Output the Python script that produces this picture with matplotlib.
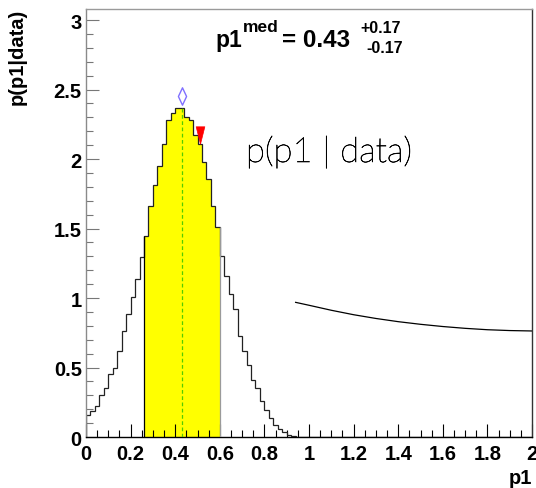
import matplotlib
matplotlib.use("Agg")
import matplotlib.pyplot as plt
import matplotlib.patheffects as pe
import numpy as np
from matplotlib.path import Path
from matplotlib.ticker import MultipleLocator, FuncFormatter

# ---- data -------------------------------------------------------------
x_min, x_max, n_bins = 0.0, 2.0, 100
# posterior density per bin (bins of width 0.02 starting at 0)
posterior = [
    0.16, 0.19, 0.22, 0.30, 0.35, 0.45, 0.50, 0.62, 0.76, 0.885,
    1.005, 1.137, 1.293, 1.444, 1.66, 1.81, 1.95, 2.11, 2.28, 2.33,
    2.37, 2.37, 2.30, 2.28, 2.17, 2.11, 1.976, 1.856, 1.664, 1.51,
    1.30, 1.156, 1.03, 0.92, 0.724, 0.62, 0.52, 0.41, 0.35, 0.257,
    0.194, 0.137, 0.089, 0.058, 0.034, 0.014, 0.005,
]
posterior = posterior + [0.0] * (n_bins - len(posterior))

median = 0.43
err_up, err_dn = 0.17, 0.17
cred_lo, cred_hi = 0.26, 0.60
mode_marker = (0.43, 2.455)
mean_marker = (0.51, 2.176)

# smooth curve drawn across the right half
curve_x = [0.94, 1.0, 1.1, 1.2, 1.3, 1.4, 1.5, 1.6, 1.7, 1.8, 1.9, 2.0]
curve_y = [0.969, 0.948, 0.912, 0.880, 0.853, 0.830, 0.811, 0.795, 0.782, 0.772, 0.766, 0.763]

# ---- figure -----------------------------------------------------------
W, H = 536, 489
fig = plt.figure(figsize=(W / 100, H / 100), dpi=100)
ax = fig.add_axes([86 / W, 1 - 438 / H, (532 - 86) / W, (438 - 10) / H])

edges = np.linspace(x_min, x_max, n_bins + 1)
vals = np.array(posterior)

# credible interval in yellow
mask = (edges[:-1] >= cred_lo - 1e-9) & (edges[1:] <= cred_hi + 1e-9)
idx = np.where(mask)[0]
ax.stairs(vals[idx], edges[idx[0]:idx[-1] + 2], fill=True, color="#ffff00",
          linewidth=0, zorder=1)
ax.vlines(cred_lo, 0, vals[idx[0]], color="black", lw=0.9, zorder=3)
ax.vlines(cred_hi, 0, vals[idx[-1]], color="#9a9a9a", lw=0.9, zorder=3)

# histogram outline
ax.stairs(vals, edges, color="#222222", lw=0.9, zorder=2)

# median line
med_bin = int(median / ((x_max - x_min) / n_bins))
ax.vlines(median, 0, vals[med_bin], color="#55cc00", lw=0.9,
          linestyles=(0, (3, 2)), zorder=3)

# markers
diamond = Path([(0, 1), (0.47, 0), (0, -1), (-0.47, 0), (0, 1)],
               [Path.MOVETO, Path.LINETO, Path.LINETO, Path.LINETO, Path.CLOSEPOLY])
ax.plot(*mode_marker, marker=diamond, markersize=12.5, markerfacecolor="none",
        markeredgecolor="#8070ff", markeredgewidth=1.0, zorder=4)
tri = Path([(-0.5, 1), (0.5, 1), (0, -1), (-0.5, 1)],
           [Path.MOVETO, Path.LINETO, Path.LINETO, Path.CLOSEPOLY])
ax.plot(*mean_marker, marker=tri, markersize=12.5, markerfacecolor="#ff0000",
        markeredgecolor="#ff0000", markeredgewidth=0.5, zorder=4)

ax.plot(curve_x, curve_y, color="black", lw=0.9, zorder=2)

ax.set_xlim(x_min, x_max)
ax.set_ylim(0, 3.08)

# ---- axes styling -----------------------------------------------------
tick_font = dict(family="Liberation Sans", weight="bold", size=14.5)
ax.xaxis.set_major_locator(MultipleLocator(0.2))
ax.xaxis.set_minor_locator(MultipleLocator(0.05))
ax.yaxis.set_major_locator(MultipleLocator(0.5))
ax.yaxis.set_minor_locator(MultipleLocator(0.1))
fmt = FuncFormatter(lambda v, p: ("%g" % round(v, 3)))
ax.xaxis.set_major_formatter(fmt)
ax.yaxis.set_major_formatter(fmt)
ax.tick_params(which="both", direction="in", top=False, right=False)
ax.tick_params(axis="x", which="major", length=9.5, width=0.8, color="black", pad=5)
ax.tick_params(axis="x", which="minor", length=5, width=0.8, color="black")
ax.tick_params(axis="y", which="major", length=9.5, width=0.8, color="#777777", pad=3)
ax.tick_params(axis="y", which="minor", length=5, width=0.8, color="#777777")
for lab in ax.get_xticklabels() + ax.get_yticklabels():
    lab.set_fontproperties(matplotlib.font_manager.FontProperties(**tick_font))

ax.spines["left"].set_color("#8a8a8a")
ax.spines["top"].set_color("#9a9a9a")
ax.spines["right"].set_color("#333333")
ax.spines["bottom"].set_color("black")
for s in ax.spines.values():
    s.set_linewidth(1.0)


def px(x, y):
    return x / W, 1 - y / H


bold = dict(family="Liberation Sans", weight="bold")

# axis titles
fig.text(*px(17, 9), "p(p1|data)", rotation=90, ha="center", va="top",
         fontsize=14.5, **bold)
fig.text(*px(532, 488), "p1", ha="right", va="bottom", fontsize=14.5, **bold)

# summary statistic header
fig.canvas.draw()
renderer = fig.canvas.get_renderer()
t1 = fig.text(*px(215, 47), "p1", ha="left", va="baseline", fontsize=16.5, **bold)
bb = t1.get_window_extent(renderer)
t2 = fig.text(bb.x1 / W + 1 / W, 1 - 32 / H, "med", ha="left", va="baseline",
              fontsize=12.5, **bold)
bb2 = t2.get_window_extent(renderer)
fig.text(bb2.x1 / W + 3 / W, 1 - 47 / H, "= %.2f" % median, ha="left",
         va="baseline", fontsize=17.5, **bold)
fig.text(*px(360, 33), "+%.2f" % err_up, ha="left", va="baseline",
         fontsize=11.5, **bold)
fig.text(*px(403, 53), "-%.2f" % err_dn, ha="right", va="baseline",
         fontsize=11.5, **bold)

# in-plot label
fig.text(*px(246, 163), "p(p1 | data)", ha="left", va="baseline",
         fontsize=25, family="Lato", weight="light", color="black",
         path_effects=[pe.withStroke(linewidth=0.45, foreground="black")])

fig.savefig("out.png", dpi=100)
